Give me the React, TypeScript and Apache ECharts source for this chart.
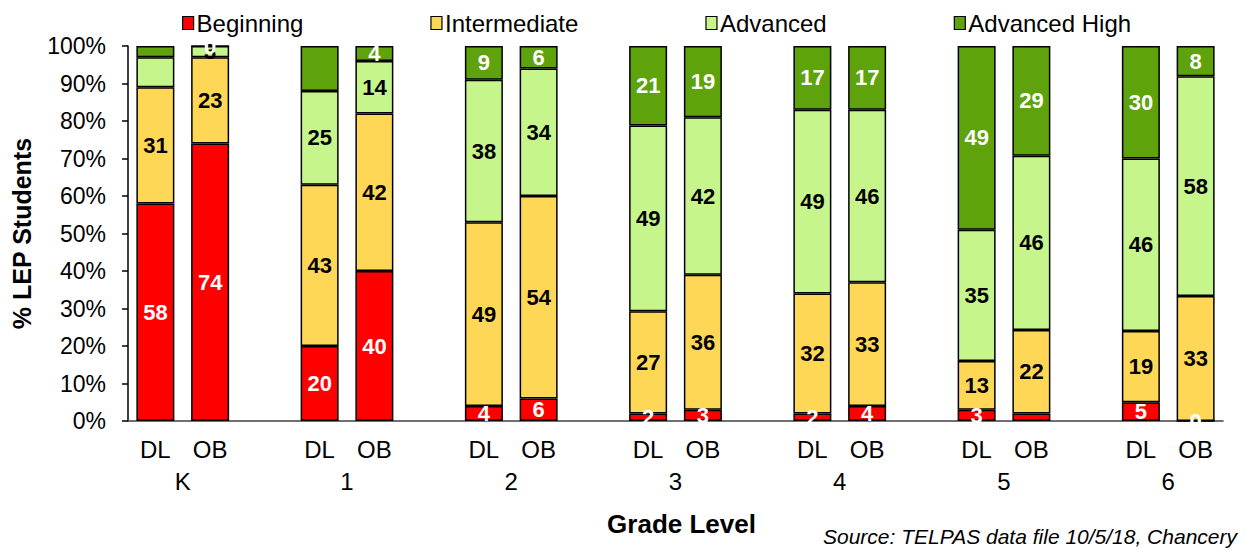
import React, { useEffect, useRef } from "react";
import * as echarts from "echarts";

const grades = ["K", "1", "2", "3", "4", "5", "6"];
const sources = ["DL", "OB"];
const seriesNames = ["Beginning", "Intermediate", "Advanced", "Advanced High"];
// Values per bar: K DL, K OB, 1 DL, 1 OB, ... 6 DL, 6 OB
const beginning = [58, 74, 20, 40, 4, 6, 2, 3, 2, 4, 3, 2, 5, 0];
const intermediate = [31, 23, 43, 42, 49, 54, 27, 36, 32, 33, 13, 22, 19, 33];
const advanced = [8, 3, 25, 14, 38, 34, 49, 42, 49, 46, 35, 46, 46, 58];
const advancedHigh = [3, 0, 12, 4, 9, 6, 21, 19, 17, 17, 49, 29, 30, 8];
// labels not shown in the reference: [seriesIndex, barIndex]
const hiddenLabels = [[2, 0], [3, 0], [3, 2], [0, 11]];
const yTicks = [0, 10, 20, 30, 40, 50, 60, 70, 80, 90, 100];

const colors = ["#FF0000", "#FFD757", "#C6F58C", "#5EA20C"];
const labelColors = ["#FFFFFF", "#000000", "#000000", "#FFFFFF"];

export default function App() {
  const ref = useRef<HTMLDivElement>(null);
  useEffect(() => {
    const chart = echarts.init(ref.current!, null, { renderer: "svg" });
    const slotCats: string[] = [];
    const slotBar: (number | null)[] = [];
    grades.forEach((g, gi) => {
      sources.forEach((s, si) => {
        slotCats.push(s);
        slotBar.push(gi * 2 + si);
      });
      if (gi < grades.length - 1) {
        slotCats.push("");
        slotBar.push(null);
      }
    });
    const gradeCats: string[] = [];
    for (let i = 0; i <= slotCats.length; i++) gradeCats.push("");
    grades.forEach((g, gi) => (gradeCats[gi * 3 + 1] = g));

    const all = [beginning, intermediate, advanced, advancedHigh];
    // 100% stacked: normalise each bar by its total
    const totals = beginning.map((_, i) => all.reduce((s, arr) => s + arr[i], 0));
    const font = "Arial, 'Liberation Sans', sans-serif";
    const series = all.map((vals, si) => ({
      name: seriesNames[si],
      type: "bar",
      stack: "total",
      barWidth: 38,
      xAxisIndex: 0,
      itemStyle: { color: colors[si], borderColor: "#000", borderWidth: 1.5 },
      label: {
        show: true,
        position: "inside",
        color: labelColors[si],
        fontFamily: font,
        fontWeight: "bold",
        fontSize: 22,
        formatter: (p: any) => {
          const bi = slotBar[p.dataIndex];
          if (bi === null) return "";
          if (hiddenLabels.some(([a, b]) => a === si && b === bi)) return "";
          return String(vals[bi]);
        },
      },
      data: slotBar.map((bi) => (bi === null ? null : (vals[bi] / totals[bi]) * 100)),
    }));

    chart.setOption({
      animation: false,
      legend: {
        top: 6,
        left: 177,
        itemGap: 127,
        itemWidth: 11,
        itemHeight: 13,
        icon: "rect",
        data: seriesNames.map((n) => ({ name: n, itemStyle: { borderColor: "#000", borderWidth: 1.2 } })),
        textStyle: { fontFamily: font, fontSize: 24, color: "#000", padding: [0, 0, 0, -2] },
      },
      grid: { left: 128, right: 24, top: 46, bottom: 129, outerBoundsMode: "none", containLabel: false },
      xAxis: [
        {
          type: "category",
          data: slotCats,
          axisLine: { show: true, lineStyle: { color: "#404040", width: 1.5 } },
          axisTick: { show: false },
          axisLabel: { interval: 0, fontFamily: font, fontSize: 24, color: "#000", margin: 16 },
        },
        {
          type: "category",
          data: gradeCats,
          position: "bottom",
          offset: 32,
          boundaryGap: false,
          axisLine: { show: false },
          axisTick: { show: false },
          axisLabel: { interval: 0, fontFamily: font, fontSize: 24, color: "#000", margin: 16 },
          name: "Grade Level",
          nameLocation: "middle",
          nameGap: 58,
          nameTextStyle: { fontFamily: font, fontSize: 26, fontWeight: "bold", color: "#000", padding: [0, 0, 0, 12] },
        },
      ],
      yAxis: {
        type: "value",
        min: yTicks[0],
        max: yTicks[yTicks.length - 1],
        interval: 10,
        axisLine: { show: true, lineStyle: { color: "#000", width: 1.5 } },
        axisTick: { show: true, inside: false, length: 6, lineStyle: { color: "#000", width: 1.5 } },
        splitLine: { show: false },
        axisLabel: { formatter: "{value}%", fontFamily: font, fontSize: 23, color: "#000", margin: 22 },
        name: "% LEP Students",
        nameLocation: "middle",
        nameGap: 94,
        nameTextStyle: { fontFamily: font, fontSize: 25, fontWeight: "bold", color: "#000" },
      },
      graphic: [
        {
          type: "text",
          right: 10,
          bottom: 3,
          style: {
            text: "Source: TELPAS data file 10/5/18, Chancery",
            font: "italic 21px Arial, 'Liberation Sans', sans-serif",
            fill: "#000",
          },
        },
      ],
      series,
    });
    return () => chart.dispose();
  }, []);
  return (
    <div
      ref={ref}
      style={{ position: "absolute", left: 0, top: 0, width: 1247, height: 550, background: "#fff" }}
    />
  );
}
